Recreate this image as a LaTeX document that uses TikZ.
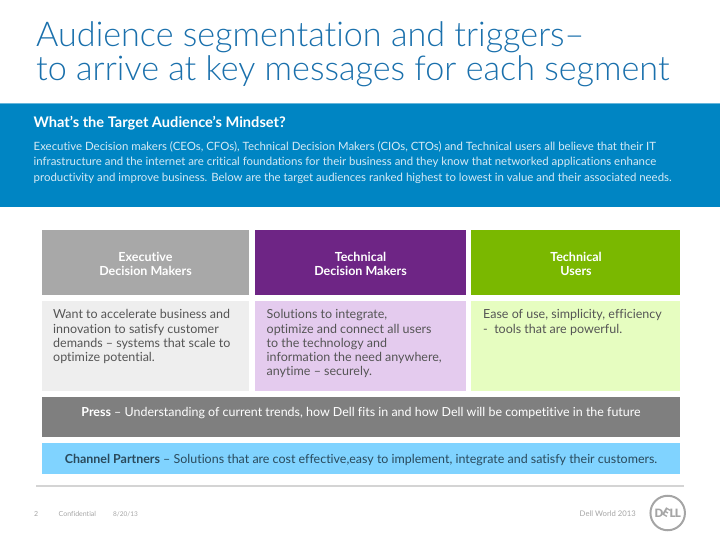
\documentclass[tikz,border=0pt]{standalone}
\usepackage{fontspec}
\setmainfont[Ligatures={TeX,NoCommon}]{Lato}
\newfontfamily\lightfont[Ligatures={TeX,NoCommon}]{Lato Light}
\newfontfamily\logofont{Lato Black}
\definecolor{titleblue}{HTML}{1A70AC}
\definecolor{band}{HTML}{0085C3}
\definecolor{bandtext}{HTML}{D5EAF5}
\definecolor{exechead}{HTML}{A8A8A8}
\definecolor{execbody}{HTML}{EEEEEE}
\definecolor{techhead}{HTML}{6E2585}
\definecolor{techbody}{HTML}{E4CBEE}
\definecolor{userhead}{HTML}{7AB800}
\definecolor{userbody}{HTML}{E6FDC0}
\definecolor{pressfill}{HTML}{7F7F7F}
\definecolor{channelfill}{HTML}{80D3FF}
\definecolor{bodytext}{HTML}{555555}
\definecolor{channeltext}{HTML}{2A4A5C}
\definecolor{rulegrey}{HTML}{D4D4D4}
\definecolor{foot}{HTML}{A5A5A5}
\tikzset{
  x=1pt,y=-1pt,
  headtext/.style={align=center,text=white,font=\fontsize{12.5}{14.2}\selectfont\bfseries},
  bodybox/.style={anchor=north west,align=left,text=bodytext,inner sep=0pt,font=\fontsize{12.5}{14.25}\selectfont},
  titletext/.style={anchor=base west,inner sep=0pt,text=titleblue,font=\lightfont\fontsize{34.15}{36}\selectfont},
  bandline/.style={anchor=base west,inner sep=0pt,text=bandtext,font=\fontsize{11.42}{12}\selectfont},
  foottext/.style={anchor=base west,inner sep=0pt,text=foot,font=\fontsize{7}{8}\selectfont},
}
\begin{document}
\begin{tikzpicture}
\useasboundingbox (0,0) rectangle (720,540);
\node[titletext] (t1) at (36,47) {Audience segmentation and triggers--};
\node[titletext] (t2) at (36,81) {to arrive at key messages for each segment};
\fill[band] (0,103) rectangle (720,207);
\draw[band!60!white,line width=.7pt] (0,103.4) -- (720,103.4);
\node[anchor=base west,inner sep=0pt,text=white,font=\fontsize{14.6}{16}\selectfont\bfseries] (bh) at (33.5,128) {What’s the Target Audience’s Mindset?};
\node[bandline] (b1) at (33.5,151) {Executive Decision makers (CEOs, CFOs), Technical Decision Makers (CIOs, CTOs) and Technical users all believe that their IT};
\node[bandline] (b2) at (33.5,166) {infrastructure and the internet are critical foundations for their business and they know that networked applications enhance};
\node[bandline] (b3) at (33.5,182) {productivity and improve business. Below are the target audiences ranked highest to lowest in value and their associated needs.};
% boxes
\fill[exechead] (42,230) rectangle (249,295);
\fill[techhead] (255,230) rectangle (466,295);
\fill[userhead] (471,230) rectangle (680,295);
\fill[execbody] (42,301) rectangle (249,391);
\fill[techbody] (255,301) rectangle (466,391);
\fill[userbody] (471,301) rectangle (680,391);
\fill[pressfill] (42,397) rectangle (680,437);
\fill[channelfill] (42,443) rectangle (680,474);
\node[headtext] (h1) at (145.5,264) {Executive\\Decision Makers};
\node[headtext] (h2) at (360.5,264) {Technical\\Decision Makers};
\node[headtext] (h3) at (576,264) {Technical\\Users};
\node[bodybox] (c1) at (53,309.5) {Want to accelerate business and\\innovation to satisfy customer\\demands -- systems that scale to\\optimize potential.};
\node[bodybox] (c2) at (266.5,309.5) {Solutions to integrate,\\optimize and connect all users\\to the technology and\\information the need anywhere,\\anytime -- securely.};
\node[bodybox] (c3) at (483,309.5) {Ease of use, simplicity, efficiency\\-\ \ tools that are powerful.};
\node[text=white,inner sep=0pt,font=\fontsize{12.45}{14}\selectfont] (press) at (361,413) {\textbf{Press} -- Understanding of current trends, how Dell fits in and how Dell will be competitive in the future};
\node[text=channeltext,inner sep=0pt,font=\fontsize{12.45}{14}\selectfont] (chan) at (361,460) {\textbf{Channel Partners} -- Solutions that are cost effective,easy to implement, integrate and satisfy their customers.};
\draw[rulegrey,line width=1.2pt] (36,486) -- (684,486);
\node[foottext] (f1) at (34,516) {2};
\node[foottext] (f2) at (58.5,516) {Confidential};
\node[foottext,font=\fontsize{6.5}{8}\selectfont] (f3) at (113,516) {8/20/13};
\node[foottext,font=\fontsize{7.7}{9}\selectfont] (f4) at (579.5,516) {Dell World 2013};
\node[circle,draw=foot,line width=2pt,minimum size=34.5pt,inner sep=0pt,text=foot,font=\logofont\fontsize{11.5}{11.5}\selectfont] (logo) at (667.7,513) {D\kern-1.8pt\rotatebox[origin=c]{-30}{E}\kern-1.8pt L\kern-.8pt L};
\end{tikzpicture}
\end{document}
